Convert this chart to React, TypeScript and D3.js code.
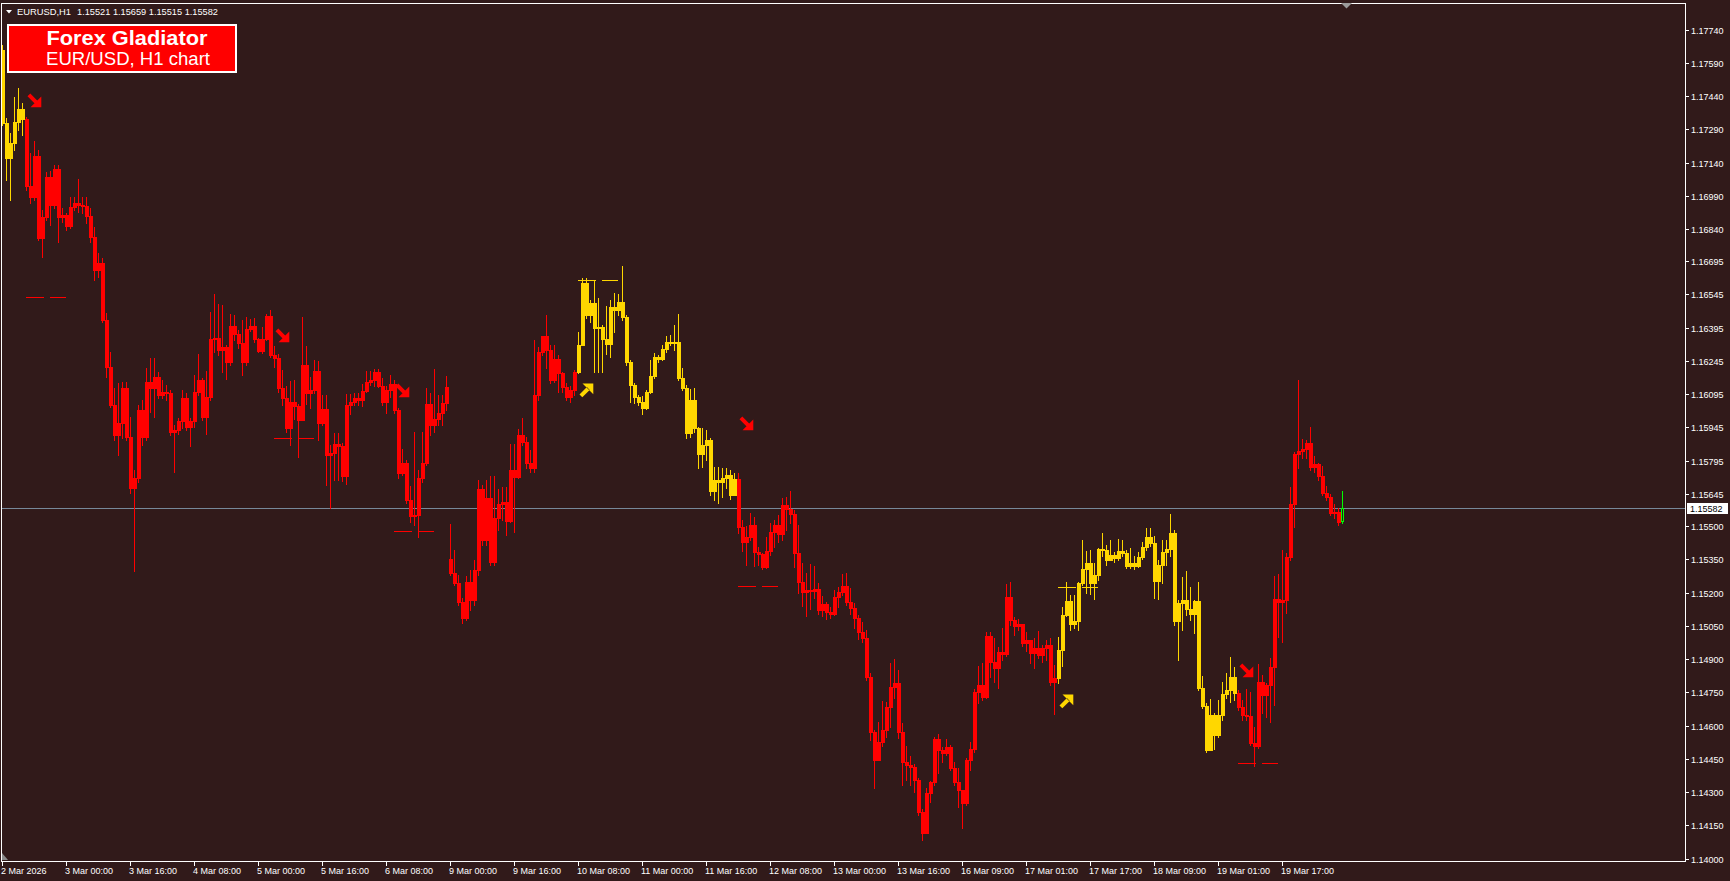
import React from 'react';
import * as d3 from 'd3';

// ---------- DATA (EURUSD H1) ----------
const open = [
1.17647,1.17318,1.17160,1.17228,1.17323,1.17381,1.17336,1.17034,1.16984,1.17169,
1.16800,1.16894,1.17075,1.16948,1.17111,1.16894,1.16903,1.16854,1.16939,1.16957,
1.16948,1.16944,1.16899,1.16804,1.16655,1.16687,1.16430,1.16218,1.16047,1.15912,
1.15966,1.16123,1.15903,1.15673,1.15718,1.16024,1.15903,1.16150,1.16123,1.16173,
1.16092,1.16105,1.16101,1.15925,1.15934,1.15975,1.16078,1.15948,1.15975,1.16105,
1.16159,1.15993,1.16083,1.16344,1.16348,1.16294,1.16308,1.16240,1.16403,1.16366,
1.16326,1.16240,1.16389,1.16403,1.16344,1.16290,1.16344,1.16448,1.16272,1.16258,
1.16123,1.16078,1.15943,1.16060,1.16042,1.15979,1.16227,1.16101,1.16114,1.16200,
1.15966,1.16029,1.15822,1.15831,1.15871,1.15862,1.15727,1.16047,1.16060,1.16078,
1.16069,1.16110,1.16150,1.16159,1.16195,1.16132,1.16060,1.16114,1.16141,1.16024,
1.15741,1.15786,1.15618,1.15545,1.15550,1.15718,1.15786,1.16051,1.15957,1.15984,
1.16011,1.16056,1.15352,1.15289,1.15244,1.15157,1.15085,1.15248,1.15166,1.15302,
1.15669,1.15437,1.15628,1.15338,1.15536,1.15599,1.15608,1.15523,1.15754,1.15723,
1.15912,1.15879,1.15786,1.15763,1.16092,1.16285,1.16357,1.16294,1.16159,1.16254,
1.16191,1.16128,1.16083,1.16114,1.16195,1.16317,1.16596,1.16452,1.16506,1.16394,
1.16398,1.16344,1.16321,1.16488,1.16475,1.16511,1.16443,1.16240,1.16137,1.16083,
1.16060,1.16033,1.16105,1.16177,1.16263,1.16254,1.16299,1.16330,1.16326,1.16330,
1.16168,1.16123,1.15921,1.16069,1.15943,1.15826,1.15867,1.15889,1.15660,1.15709,
1.15700,1.15718,1.15732,1.15642,1.15714,1.15496,1.15428,1.15451,1.15505,1.15383,
1.15374,1.15316,1.15388,1.15473,1.15505,1.15464,1.15595,1.15577,1.15554,1.15379,
1.15248,1.15203,1.15212,1.15208,1.15217,1.15121,1.15148,1.15112,1.15103,1.15181,
1.15203,1.15230,1.15157,1.15130,1.15085,1.15022,1.14995,1.14820,1.14571,1.14445,
1.14526,1.14580,1.14684,1.14775,1.14793,1.14571,1.14436,1.14423,1.14414,1.14355,
1.14210,1.14115,1.14297,1.14346,1.14540,1.14490,1.14477,1.14504,1.14409,1.14346,
1.14310,1.14251,1.14445,1.14495,1.14752,1.14784,1.14730,1.15004,1.14887,1.14860,
1.14932,1.14923,1.15181,1.15076,1.15049,1.15058,1.14973,1.14986,1.14928,1.14950,
1.14919,1.14950,1.14964,1.14797,1.14815,1.14941,1.15099,1.15162,1.15058,1.15072,
1.15244,1.15307,1.15334,1.15244,1.15280,1.15397,1.15392,1.15347,1.15370,1.15356,
1.15388,1.15379,1.15320,1.15334,1.15320,1.15361,1.15406,1.15451,1.15424,1.15253,
1.15325,1.15383,1.15397,1.15469,1.15072,1.15153,1.15166,1.15126,1.15103,1.15162,
1.14770,1.14688,1.14490,1.14648,1.14558,1.14648,1.14743,1.14761,1.14820,1.14748,
1.14684,1.14648,1.14643,1.14522,1.14508,1.14797,1.14739,1.14784,1.14865,1.15172,
1.15157,1.15166,1.15361,1.15599,1.15826,1.15840,1.15849,1.15876,1.15768,1.15781,
1.15727,1.15651,1.15633,1.15559,1.15563,1.15521];

const high = [
1.17670,1.17341,1.17273,1.17435,1.17476,1.17408,1.17345,1.17183,1.17237,1.17196,
1.16926,1.17097,1.17102,1.17129,1.17129,1.16935,1.16912,1.16984,1.16984,1.17066,
1.16984,1.16984,1.16935,1.16849,1.16732,1.16710,1.16461,1.16285,1.16123,1.16146,
1.16150,1.16150,1.15993,1.15754,1.16047,1.16069,1.16213,1.16258,1.16258,1.16195,
1.16159,1.16137,1.16114,1.15957,1.15988,1.16114,1.16101,1.15988,1.16182,1.16276,
1.16168,1.16200,1.16466,1.16547,1.16502,1.16497,1.16317,1.16457,1.16452,1.16385,
1.16430,1.16443,1.16434,1.16439,1.16348,1.16398,1.16457,1.16475,1.16312,1.16276,
1.16204,1.16132,1.16155,1.16159,1.16051,1.16443,1.16312,1.16173,1.16249,1.16245,
1.16092,1.16092,1.15867,1.15921,1.15921,1.15876,1.16096,1.16096,1.16101,1.16101,
1.16141,1.16200,1.16200,1.16209,1.16209,1.16168,1.16132,1.16182,1.16159,1.16033,
1.15849,1.15799,1.15682,1.15925,1.15754,1.15925,1.16123,1.16101,1.16209,1.16092,
1.16092,1.16177,1.15509,1.15392,1.15280,1.15176,1.15275,1.15302,1.15347,1.15709,
1.15687,1.15709,1.15727,1.15727,1.15669,1.15678,1.15678,1.15871,1.15871,1.15939,
1.15988,1.15903,1.15844,1.16339,1.16308,1.16357,1.16452,1.16317,1.16317,1.16272,
1.16195,1.16146,1.16132,1.16204,1.16376,1.16619,1.16619,1.16520,1.16610,1.16528,
1.16407,1.16493,1.16520,1.16551,1.16547,1.16673,1.16452,1.16249,1.16146,1.16092,
1.16087,1.16114,1.16249,1.16281,1.16272,1.16317,1.16357,1.16362,1.16407,1.16457,
1.16213,1.16137,1.16119,1.16123,1.15948,1.15943,1.15934,1.15898,1.15768,1.15768,
1.15763,1.15763,1.15754,1.15741,1.15741,1.15527,1.15500,1.15559,1.15541,1.15406,
1.15379,1.15451,1.15514,1.15527,1.15550,1.15628,1.15633,1.15660,1.15572,1.15505,
1.15334,1.15289,1.15329,1.15320,1.15244,1.15185,1.15157,1.15135,1.15212,1.15226,
1.15284,1.15289,1.15221,1.15153,1.15099,1.15067,1.15031,1.14838,1.14580,1.14616,
1.14711,1.14706,1.14883,1.14901,1.14851,1.14612,1.14508,1.14463,1.14427,1.14364,
1.14224,1.14319,1.14351,1.14549,1.14562,1.14504,1.14540,1.14513,1.14436,1.14409,
1.14310,1.14454,1.14526,1.14766,1.14869,1.14883,1.15022,1.15022,1.14995,1.14955,
1.15040,1.15239,1.15248,1.15090,1.15081,1.15058,1.15022,1.14986,1.14995,1.15027,
1.14964,1.14986,1.14995,1.14874,1.15000,1.15135,1.15248,1.15190,1.15190,1.15248,
1.15437,1.15388,1.15392,1.15334,1.15401,1.15469,1.15415,1.15437,1.15383,1.15442,
1.15437,1.15392,1.15401,1.15365,1.15383,1.15428,1.15491,1.15491,1.15455,1.15347,
1.15437,1.15437,1.15554,1.15482,1.15166,1.15271,1.15297,1.15226,1.15166,1.15248,
1.14824,1.14700,1.14721,1.14657,1.14715,1.14797,1.14838,1.14910,1.14865,1.14761,
1.14715,1.14766,1.14752,1.14594,1.14878,1.14829,1.14793,1.14905,1.15275,1.15284,
1.15392,1.15379,1.15678,1.15835,1.16159,1.15893,1.15889,1.15948,1.15817,1.15785,
1.15772,1.15682,1.15646,1.15599,1.15581,1.15659];

const low = [
1.17309,1.17061,1.16971,1.17196,1.17287,1.17264,1.17016,1.16957,1.16971,1.16791,
1.16714,1.16881,1.16858,1.16935,1.16781,1.16872,1.16836,1.16845,1.16926,1.16917,
1.16912,1.16867,1.16781,1.16610,1.16624,1.16421,1.16173,1.16038,1.15889,1.15822,
1.15898,1.15889,1.15651,1.15298,1.15700,1.15867,1.15889,1.16015,1.15993,1.16078,
1.16078,1.16069,1.15912,1.15745,1.15916,1.15943,1.15934,1.15862,1.15948,1.16092,
1.15979,1.15916,1.16069,1.16285,1.16272,1.16195,1.16164,1.16227,1.16339,1.16303,
1.16182,1.16227,1.16380,1.16330,1.16285,1.16280,1.16339,1.16263,1.16218,1.16105,
1.16047,1.15925,1.15867,1.15984,1.15813,1.15979,1.16051,1.16033,1.16101,1.15889,
1.15957,1.15687,1.15581,1.15709,1.15709,1.15705,1.15691,1.16006,1.16047,1.16047,
1.16042,1.16105,1.16137,1.16132,1.16128,1.16047,1.16011,1.16083,1.16011,1.15718,
1.15732,1.15604,1.15518,1.15505,1.15451,1.15700,1.15777,1.15912,1.15925,1.15957,
1.15957,1.16024,1.15280,1.15235,1.15144,1.15063,1.15076,1.15121,1.15144,1.15280,
1.15415,1.15415,1.15325,1.15325,1.15482,1.15527,1.15460,1.15518,1.15473,1.15718,
1.15867,1.15763,1.15745,1.15745,1.16069,1.16272,1.16213,1.16146,1.16150,1.16105,
1.16105,1.16069,1.16060,1.16092,1.16191,1.16317,1.16439,1.16421,1.16195,1.16195,
1.16195,1.16276,1.16263,1.16375,1.16452,1.16430,1.16227,1.16060,1.16056,1.16047,
1.16006,1.16028,1.16101,1.16168,1.16240,1.16249,1.16285,1.16317,1.16294,1.16159,
1.16114,1.15898,1.15903,1.15925,1.15763,1.15768,1.15799,1.15642,1.15618,1.15604,
1.15633,1.15673,1.15624,1.15664,1.15469,1.15388,1.15325,1.15437,1.15320,1.15325,
1.15307,1.15311,1.15370,1.15406,1.15428,1.15437,1.15482,1.15514,1.15316,1.15199,
1.15139,1.15094,1.15126,1.15176,1.15103,1.15094,1.15081,1.15085,1.15099,1.15135,
1.15190,1.15144,1.15103,1.15040,1.14991,1.14977,1.14806,1.14535,1.14319,1.14445,
1.14508,1.14549,1.14594,1.14725,1.14544,1.14333,1.14355,1.14333,1.14301,1.14197,
1.14084,1.14174,1.14255,1.14333,1.14387,1.14436,1.14468,1.14400,1.14333,1.14233,
1.14138,1.14242,1.14400,1.14481,1.14702,1.14715,1.14725,1.14820,1.14797,1.14770,
1.14896,1.14914,1.15054,1.15009,1.15031,1.14959,1.14937,1.14883,1.14860,1.14905,
1.14887,1.14896,1.14784,1.14652,1.14793,1.14869,1.15094,1.15031,1.15040,1.15031,
1.15235,1.15199,1.15194,1.15172,1.15257,1.15365,1.15325,1.15347,1.15338,1.15347,
1.15365,1.15311,1.15311,1.15307,1.15316,1.15352,1.15392,1.15410,1.15176,1.15172,
1.15244,1.15325,1.15365,1.15054,1.14896,1.15031,1.15099,1.15076,1.15018,1.14761,
1.14679,1.14481,1.14549,1.14495,1.14549,1.14625,1.14725,1.14706,1.14715,1.14670,
1.14625,1.14625,1.14513,1.14418,1.14499,1.14657,1.14639,1.14616,1.14693,1.15000,
1.14977,1.15108,1.15347,1.15496,1.15763,1.15808,1.15808,1.15754,1.15745,1.15709,
1.15642,1.15618,1.15550,1.15536,1.15505,1.15515];

const close = [
1.17318,1.17160,1.17228,1.17323,1.17381,1.17336,1.17034,1.16984,1.17169,1.16800,
1.16894,1.17075,1.16948,1.17111,1.16894,1.16903,1.16854,1.16939,1.16957,1.16948,
1.16944,1.16899,1.16804,1.16655,1.16687,1.16430,1.16218,1.16047,1.15912,1.15966,
1.16123,1.15903,1.15673,1.15718,1.16024,1.15903,1.16150,1.16123,1.16173,1.16092,
1.16105,1.16101,1.15925,1.15934,1.15975,1.16078,1.15948,1.15975,1.16105,1.16159,
1.15993,1.16083,1.16344,1.16348,1.16294,1.16308,1.16240,1.16403,1.16366,1.16326,
1.16240,1.16389,1.16403,1.16344,1.16290,1.16344,1.16448,1.16272,1.16258,1.16123,
1.16078,1.15943,1.16060,1.16042,1.15979,1.16227,1.16101,1.16114,1.16200,1.15966,
1.16029,1.15822,1.15831,1.15871,1.15862,1.15727,1.16047,1.16060,1.16078,1.16069,
1.16110,1.16150,1.16159,1.16195,1.16132,1.16060,1.16114,1.16141,1.16024,1.15741,
1.15786,1.15618,1.15545,1.15550,1.15718,1.15786,1.16051,1.15957,1.15984,1.16011,
1.16056,1.16128,1.15289,1.15244,1.15157,1.15085,1.15248,1.15166,1.15302,1.15669,
1.15437,1.15628,1.15338,1.15536,1.15599,1.15608,1.15523,1.15754,1.15723,1.15912,
1.15879,1.15786,1.15763,1.16092,1.16285,1.16357,1.16294,1.16159,1.16254,1.16191,
1.16128,1.16083,1.16114,1.16195,1.16317,1.16596,1.16452,1.16506,1.16394,1.16398,
1.16344,1.16321,1.16488,1.16475,1.16511,1.16443,1.16240,1.16137,1.16083,1.16060,
1.16033,1.16105,1.16177,1.16263,1.16254,1.16299,1.16330,1.16326,1.16330,1.16168,
1.16123,1.15921,1.16069,1.15943,1.15826,1.15867,1.15889,1.15660,1.15709,1.15700,
1.15718,1.15732,1.15642,1.15714,1.15496,1.15428,1.15451,1.15505,1.15383,1.15374,
1.15316,1.15388,1.15473,1.15505,1.15464,1.15595,1.15577,1.15554,1.15379,1.15248,
1.15203,1.15212,1.15208,1.15217,1.15121,1.15148,1.15112,1.15103,1.15181,1.15203,
1.15230,1.15157,1.15130,1.15085,1.15022,1.14995,1.14820,1.14571,1.14445,1.14526,
1.14580,1.14684,1.14775,1.14793,1.14571,1.14436,1.14423,1.14414,1.14355,1.14210,
1.14115,1.14297,1.14346,1.14540,1.14490,1.14477,1.14504,1.14409,1.14346,1.14310,
1.14251,1.14445,1.14495,1.14752,1.14784,1.14730,1.15004,1.14887,1.14860,1.14932,
1.14923,1.15181,1.15076,1.15049,1.15058,1.14973,1.14986,1.14928,1.14950,1.14919,
1.14950,1.14964,1.14797,1.14815,1.14941,1.15099,1.15162,1.15058,1.15072,1.15244,
1.15307,1.15334,1.15244,1.15280,1.15397,1.15392,1.15347,1.15370,1.15356,1.15388,
1.15379,1.15320,1.15334,1.15320,1.15361,1.15406,1.15451,1.15424,1.15253,1.15325,
1.15383,1.15397,1.15469,1.15072,1.15153,1.15166,1.15126,1.15103,1.15162,1.14770,
1.14688,1.14490,1.14648,1.14558,1.14648,1.14743,1.14761,1.14820,1.14748,1.14684,
1.14648,1.14643,1.14522,1.14508,1.14797,1.14739,1.14784,1.14865,1.15172,1.15157,
1.15166,1.15361,1.15599,1.15826,1.15840,1.15849,1.15876,1.15768,1.15781,1.15727,
1.15651,1.15633,1.15559,1.15563,1.15518,1.15582];

// trend segments of the indicator (first bar of each segment)
const trendStarts = [0, 6, 144, 184, 264, 309];
const trendDirs = ['up', 'down', 'up', 'down', 'up', 'down'];

// signals
const signalBars = [6, 68, 98, 144, 184, 264, 309];
const signalDirs = ['down', 'down', 'down', 'up', 'down', 'up', 'down'];
const arrowPrices = [1.17424, 1.16360, 1.16112, 1.16112, 1.15963, 1.14713, 1.14853];
const levelPrices = [1.16533, 1.15898, 1.15478, 1.16610, 1.15230, 1.15226, 1.14431];

// axes
const priceTicks = [1.17740, 1.17590, 1.17440, 1.17290, 1.17140, 1.16990, 1.16840, 1.16695, 1.16545,
  1.16395, 1.16245, 1.16095, 1.15945, 1.15795, 1.15645, 1.15500, 1.15350, 1.15200, 1.15050,
  1.14900, 1.14750, 1.14600, 1.14450, 1.14300, 1.14150, 1.14000];
const timeTickBars = [0, 16, 32, 48, 64, 80, 96, 112, 128, 144, 160, 176, 192, 208, 224, 240, 256, 272, 288, 304, 320];
const timeTickLabels = ['2 Mar 2026', '3 Mar 00:00', '3 Mar 16:00', '4 Mar 08:00', '5 Mar 00:00', '5 Mar 16:00',
  '6 Mar 08:00', '9 Mar 00:00', '9 Mar 16:00', '10 Mar 08:00', '11 Mar 00:00', '11 Mar 16:00', '12 Mar 08:00',
  '13 Mar 00:00', '13 Mar 16:00', '16 Mar 09:00', '17 Mar 01:00', '17 Mar 17:00', '18 Mar 09:00',
  '19 Mar 01:00', '19 Mar 17:00'];
const headerSymbol = 'EURUSD,H1';
const bidPrice = 1.15582;

const BG = '#311A1A';
const UP = '#FFD700';
const DOWN = '#FF0000';
const LIVE = '#00FF00';
const FONT = '"Liberation Sans", Arial, sans-serif';

function trendColor(i: number) {
  let d = trendDirs[0];
  for (let k = 0; k < trendStarts.length; k++) if (i >= trendStarts[k]) d = trendDirs[k];
  return d === 'up' ? UP : DOWN;
}

const arrowDown = 'M0,2.8 L2.8,0 L10.2,7.4 L7.4,10.2 Z M13.8,3 L13.8,13.8 L3,13.8 Z';
const arrowUp = 'M0,11 L2.8,13.8 L10.2,6.4 L7.4,3.6 Z M3,0 L13.8,0 L13.8,10.8 Z';

export default function App() {
  const width = 1730, height = 881;
  const plotLeft = 1, plotTop = 3, plotRight = 1685, plotBottom = 861;
  const n = close.length;
  const x = d3.scaleLinear().domain([0, n - 1]).range([2, 2 + 4 * (n - 1)]);
  const y = d3.scaleLinear().domain([1.14, 1.1774]).range([858.6, 29.5]);
  const ry = (v: number) => Math.round(y(v));
  const fmt = d3.format('.5f');
  const liveIdx = n - 1;

  const candles = d3.range(n - 1).map((i) => {
    const col = trendColor(i);
    const xi = Math.round(x(i));
    const oy = ry(open[i]), cy = ry(close[i]);
    const hy = ry(high[i]), ly = ry(low[i]);
    const top = Math.min(oy, cy), bot = Math.max(oy, cy);
    const wt = Math.min(hy, top), wb = Math.max(ly, bot);
    return (
      <g key={i} fill={col}>
        <rect x={xi} y={wt} width={1} height={wb - wt + 1} />
        <rect x={xi - 1} y={top} width={4} height={Math.max(1, bot - top + 1)} />
      </g>
    );
  });

  const lx = Math.round(x(liveIdx));
  const loy = ry(open[liveIdx]), lcy = ry(close[liveIdx]);
  const lhy = ry(high[liveIdx]), lly = ry(low[liveIdx]);
  const ltop = Math.min(loy, lcy), lbot = Math.max(loy, lcy);
  const bidY = ry(bidPrice);

  return (
    <svg width={width} height={height} style={{ position: 'absolute', left: 0, top: 0, display: 'block' }} fontFamily={FONT}>
      <rect x={0} y={0} width={width} height={height} fill={BG} />
      <defs>
        <clipPath id="plotClip">
          <rect x={plotLeft + 1} y={plotTop + 1} width={plotRight - plotLeft - 1} height={plotBottom - plotTop - 1} />
        </clipPath>
      </defs>

      <g clipPath="url(#plotClip)" shapeRendering="crispEdges">
        {/* signal level lines */}
        {signalBars.map((s, k) => (
          <line key={'lv' + k} x1={x(s)} x2={x(s + 10)} y1={ry(levelPrices[k]) + 0.5} y2={ry(levelPrices[k]) + 0.5}
            stroke={signalDirs[k] === 'up' ? UP : DOWN} strokeWidth={1} strokeDasharray="18,6" />
        ))}
        {/* bid line */}
        <line x1={plotLeft} x2={plotRight} y1={bidY + 0.5} y2={bidY + 0.5} stroke="#778899" strokeWidth={1} />
        {candles}
        {/* live bar */}
        <g>
          <rect x={lx} y={lhy} width={1} height={Math.max(0, ltop - lhy)} fill={LIVE} />
          <rect x={lx} y={lbot} width={1} height={Math.max(0, lly - lbot + 1)} fill={LIVE} />
          <rect x={lx - 0.5} y={ltop + 0.5} width={2} height={Math.max(1, lbot - ltop)} fill={BG} stroke={LIVE} strokeWidth={1} />
        </g>
      </g>

      {/* arrows */}
      <g clipPath="url(#plotClip)">
        {signalBars.map((s, k) => (
          <path key={'ar' + k} d={signalDirs[k] === 'up' ? arrowUp : arrowDown}
            transform={`translate(${Math.round(x(s + 2)) - 6.5},${ry(arrowPrices[k]) - 6.5})`}
            fill={signalDirs[k] === 'up' ? UP : DOWN} />
        ))}
      </g>

      {/* frame */}
      <g shapeRendering="crispEdges" stroke="#FFFFFF" strokeWidth={1}>
        <line x1={plotLeft + 0.5} x2={plotLeft + 0.5} y1={plotTop} y2={plotBottom} />
        <line x1={plotLeft} x2={plotRight + 1} y1={plotTop + 0.5} y2={plotTop + 0.5} />
        <line x1={plotRight + 0.5} x2={plotRight + 0.5} y1={plotTop} y2={plotBottom + 1} />
        <line x1={plotLeft} x2={plotRight + 1} y1={plotBottom + 0.5} y2={plotBottom + 0.5} />
      </g>

      {/* chart shift marker & corner marker */}
      <path d="M1341,3 L1352,3 L1346.5,8.5 Z" fill="#9A9A9A" />
      <path d="M2,853 L2,860 L8,860 Z" fill="#8A8A8A" />

      {/* price axis */}
      <g shapeRendering="crispEdges">
        {priceTicks.map((v) => (
          <rect key={'pt' + v} x={plotRight + 1} y={ry(v)} width={3} height={1} fill="#FFFFFF" />
        ))}
      </g>
      <g fontSize={9} fill="#FFFFFF">
        {priceTicks.map((v) => (
          <text key={'pl' + v} x={1691} y={ry(v) + 3.5}>{fmt(v)}</text>
        ))}
      </g>
      <rect x={1687} y={bidY - 5} width={41} height={11} fill="#FFFFFF" shapeRendering="crispEdges" />
      <text x={1690} y={bidY + 4} fontSize={9} fill="#000000">{fmt(bidPrice)}</text>

      {/* time axis */}
      <g shapeRendering="crispEdges">
        {timeTickBars.map((b) => (
          <rect key={'tt' + b} x={Math.round(x(b))} y={plotBottom + 1} width={1} height={4} fill="#FFFFFF" />
        ))}
      </g>
      <g fontSize={9} fill="#FFFFFF">
        {timeTickBars.map((b, k) => (
          <text key={'tl' + b} x={Math.round(x(b)) - 1} y={874}>{timeTickLabels[k]}</text>
        ))}
      </g>

      {/* header */}
      <path d="M6,10 L12,10 L9,13.5 Z" fill="#FFFFFF" />
      <text x={17} y={15} fontSize={9} fill="#FFFFFF" textLength={54} lengthAdjust="spacingAndGlyphs">{headerSymbol}</text>
      <text x={77} y={15} fontSize={9} fill="#FFFFFF" textLength={141} lengthAdjust="spacingAndGlyphs">
        {[open[liveIdx], high[liveIdx], low[liveIdx], close[liveIdx]].map((v) => fmt(v)).join(' ')}
      </text>

      {/* title box */}
      <rect x={8} y={25} width={228} height={47} fill="#FF0000" stroke="#FFFFFF" strokeWidth={2} shapeRendering="crispEdges" />
      <text x={127} y={45} textAnchor="middle" fontSize={20} fontWeight="bold" fill="#FFFFFF"
        textLength={161} lengthAdjust="spacingAndGlyphs">Forex Gladiator</text>
      <text x={128} y={65} textAnchor="middle" fontSize={18} fill="#FFFFFF"
        textLength={164} lengthAdjust="spacingAndGlyphs">EUR/USD, H1 chart</text>
    </svg>
  );
}
